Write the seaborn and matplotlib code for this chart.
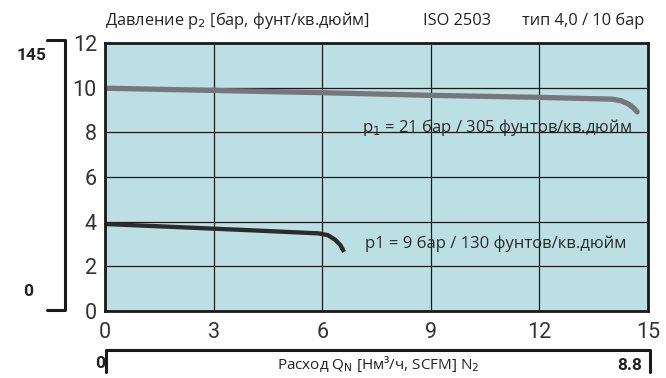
import matplotlib
matplotlib.use("Agg")
import matplotlib.pyplot as plt
import seaborn as sns
import pandas as pd
from matplotlib.lines import Line2D
from matplotlib import font_manager

# curve for p1 = 21 bar (upper, grey)
flow_hi = [0, 3, 6, 9, 12, 14.0, 14.25, 14.45, 14.6, 14.7]
pres_hi = [9.98, 9.88, 9.78, 9.66, 9.57, 9.49, 9.42, 9.28, 9.1, 8.92]
# curve for p1 = 9 bar (lower, dark)
flow_lo = [0, 2, 4, 5.9, 6.15, 6.35, 6.5, 6.6]
pres_lo = [3.9, 3.76, 3.62, 3.48, 3.4, 3.2, 2.95, 2.65]

x_ticks = [0, 3, 6, 9, 12, 15]
y_ticks = [0, 2, 4, 6, 8, 10, 12]

sns.set_style("white")
plt.rcParams["font.family"] = ["Open Sans", "DejaVu Sans"]

# narrow-ish face for the numbers (original uses a condensed font)
tick_fp = font_manager.FontProperties(family=["Roboto", "DejaVu Sans"], weight="normal", size=15.5)
bold_fp = font_manager.FontProperties(family=["Roboto", "DejaVu Sans"], weight="bold", size=12.5)

df_hi = pd.DataFrame({"flow": flow_hi, "pressure": pres_hi})
df_lo = pd.DataFrame({"flow": flow_lo, "pressure": pres_lo})

fig = plt.figure(figsize=(6.66, 3.78), dpi=100)
ax = fig.add_axes([0.158, 0.177, 0.815, 0.709])
ax.set_facecolor("#bcdfe4")

sns.lineplot(data=df_hi, x="flow", y="pressure", sort=False, ax=ax,
             color="#76767c", linewidth=3.8, solid_capstyle="round")
sns.lineplot(data=df_lo, x="flow", y="pressure", sort=False, ax=ax,
             color="#2b2b2b", linewidth=3.1, solid_capstyle="butt")

ax.set_xlim(0, 15)
ax.set_ylim(0, 12)
ax.set_xticks(x_ticks)
ax.set_yticks(y_ticks)
ax.grid(True, color="#1a1a1a", linewidth=0.9)
ax.set_axisbelow(True)
for s in ax.spines.values():
    s.set_linewidth(2)
    s.set_color("#1a1a1a")
ax.tick_params(length=0, colors="#333333")
ax.tick_params(axis="y", pad=6)
ax.tick_params(axis="x", pad=8)
for lbl in ax.get_xticklabels() + ax.get_yticklabels():
    lbl.set_fontproperties(tick_fp)
ax.set_xlabel("")
ax.set_ylabel("")

ax.text(14.55, 8.2, "p$_1$ = 21 бар / 305 фунтов/кв.дюйм", ha="right",
        va="center", fontsize=12, color="#2a2a2a")
ax.text(14.4, 3.0, "p1 = 9 бар / 130 фунтов/кв.дюйм", ha="right",
        va="center", fontsize=12, color="#2a2a2a")

# header texts
fig.text(0.158, 0.945, "Давление p$_2$ [бар, фунт/кв.дюйм]", ha="left",
         va="center", fontsize=11.8, color="#222222")
fig.text(0.687, 0.945, "ISO 2503", ha="center", va="center",
         fontsize=11.8, color="#222222")
fig.text(0.968, 0.945, "тип 4,0 / 10 бар", ha="right", va="center",
         fontsize=11.8, color="#222222")

# secondary psi scale on the left
W, H = 666, 378
def fx(px):
    return px / W
def fy(py):
    return 1 - py / H
fig.add_artist(Line2D([fx(47), fx(65), fx(65), fx(47)],
                      [fy(40), fy(40), fy(310), fy(310)],
                      color="#1a1a1a", linewidth=2.2))
fig.text(fx(31), fy(55), "145", ha="center", va="center",
         color="#222222", fontproperties=bold_fp)
fig.text(fx(28), fy(292), "0", ha="center", va="center",
         color="#222222", fontproperties=bold_fp)

# secondary SCFM scale at the bottom
fig.add_artist(Line2D([fx(106), fx(106), fx(650), fx(650)],
                      [fy(372), fy(350), fy(350), fy(372)],
                      color="#1a1a1a", linewidth=2.2))
fig.text(fx(100), fy(364), "0", ha="center", va="center",
         color="#222222", fontproperties=bold_fp)
fig.text(fx(630), fy(366), "8.8", ha="center", va="center",
         color="#222222", fontproperties=bold_fp)
fig.text(fx(378), fy(364), "Расход Q$_\\mathrm{N}$ [Нм³/ч, SCFM] N$_2$",
         ha="center", va="center", fontsize=11, color="#222222")

fig.savefig("out.png", dpi=100)
